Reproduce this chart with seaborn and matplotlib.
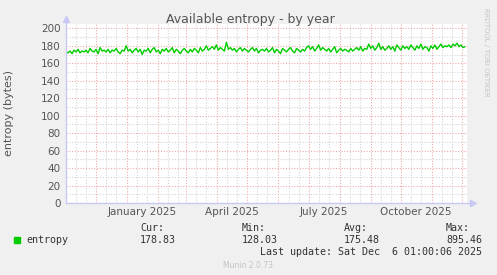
import numpy as np
import pandas as pd
import matplotlib
matplotlib.use("Agg")
import matplotlib.pyplot as plt
import matplotlib.dates as mdates
import seaborn as sns
from datetime import datetime

# ---------------- data ----------------
title = "Available entropy - by year"
ylabel = "entropy (bytes)"
series_name = "entropy"
start_date = "2024-11-01 01:00"
end_date = "2025-12-06 01:00"
# samples every 2 days (averaged entropy, bytes)
entropy = [
    173, 172, 174, 171, 175, 173, 176, 172, 174, 173,
    175, 172, 177, 174, 173, 176, 171, 178, 174, 175,
    173, 176, 172, 175, 174, 177, 173, 171, 175, 174,
    180, 174, 176, 172, 175, 177, 173, 176, 170, 175,
    174, 177, 172, 176, 178, 173, 175, 171, 176, 174,
    177, 173, 175, 178, 172, 176, 174, 171, 175, 177,
    174, 172, 176, 173, 177, 175, 172, 178, 174, 176,
    180, 175, 177, 179, 176, 181, 175, 178, 176, 174,
    184, 176, 178, 175, 177, 173, 176, 178, 174, 177,
    175, 173, 176, 178, 174, 177, 172, 175, 176, 174,
    177, 173, 175, 178, 172, 176, 174, 171, 177, 175,
    173, 176, 178, 174, 172, 177, 175, 173, 176, 174,
    178, 180, 176, 179, 174, 177, 181, 175, 178, 176,
    174, 177, 173, 176, 179, 172, 175, 177, 174, 176,
    175, 173, 177, 174, 176, 178, 175, 179, 174, 177,
    176, 182, 177, 180, 175, 178, 183, 176, 179, 175,
    177, 180, 176, 179, 174, 181, 178, 175, 180, 177,
    179, 176, 181, 178, 175, 180, 177, 182, 176, 179,
    178, 174, 180, 177, 181, 176, 179, 182, 178, 180,
    179, 181, 178, 182, 180, 183, 179, 181, 178, 179,
]
xtick_labels = ["January 2025", "April 2025", "July 2025", "October 2025"]
xtick_months = ["2025-01", "2025-04", "2025-07", "2025-10"]
ytick_values = [0, 20, 40, 60, 80, 100, 120, 140, 160, 180, 200]
stat_headers = ["Cur:", "Min:", "Avg:", "Max:"]
stat_values = ["178.83", "128.03", "175.48", "895.46"]
last_update = "Last update: Sat Dec  6 01:00:06 2025"
footer = "Munin 2.0.73"
side_text = "RRDTOOL / TOBI OETIKER"

# ---------------- style ----------------
sns.set_style("white")
plt.rcParams["font.family"] = ["DejaVu Sans"]

W, H = 497, 275
fig = plt.figure(figsize=(W / 100, H / 100), dpi=100, facecolor="#f0f0f0")
L, R, B, T = 66, 467, 203, 24
ax = fig.add_axes([L / W, (H - B) / H, (R - L) / W, (B - T) / H])
ax.set_facecolor("white")

t0 = pd.Timestamp(start_date)
t1 = pd.Timestamp(end_date)
dates = pd.date_range(t0, periods=len(entropy), freq="2D")
df = pd.DataFrame({"date": dates, "value": entropy})

red = "#eeaaaa"
gray = "#d4d4d4"

# grid: months (red), 11th/21st (gray)
months = pd.date_range("2024-11-01", "2025-12-31", freq="MS")
for m in months:
    for d in (11, 21):
        dd = m + pd.Timedelta(days=d - 1)
        if t0 < dd < t1:
            ax.axvline(dd, color=gray, lw=0.8, ls=(0, (1, 1.5)), zorder=1)
for y in range(10, 210, 20):
    ax.axhline(y, color=gray, lw=0.8, ls=(0, (1, 1.5)), zorder=1)
for y in ytick_values[1:]:
    ax.axhline(y, color=red, lw=0.8, ls=(0, (1, 1.5)), zorder=2)
month_ticks = [m for m in months if t0 < m < t1]
for m in month_ticks:
    ax.axvline(m, color=red, lw=0.8, ls=(0, (1, 1.5)), zorder=2)

sns.lineplot(data=df, x="date", y="value", ax=ax, color="#00cc00",
             lw=1.0, zorder=3, legend=False)

ax.set_xlim(t0, t1)
ax.set_ylim(0, 205)
ax.set_xlabel("")
ax.set_ylabel(ylabel, fontsize=8, color="#555555", labelpad=19)

ax.set_yticks(ytick_values)
ax.set_yticklabels([str(v) for v in ytick_values], fontsize=7.5, color="#555555")
ax.tick_params(axis="y", length=2, color=red, pad=2)

ax.set_xticks(month_ticks)
ax.set_xticklabels([""] * len(month_ticks))
ax.tick_params(axis="x", which="major", length=3, color=red, direction="out")
label_pos = [pd.Timestamp(m + "-01") + pd.Timedelta(days=15) for m in xtick_months]
ax.set_xticks(label_pos, minor=True)
ax.set_xticklabels(xtick_labels, minor=True, fontsize=7.5, color="#555555")
ax.tick_params(axis="x", which="minor", length=0, pad=3)

for s in ax.spines.values():
    s.set_visible(False)
axis_col = "#c8c8f4"
ax.plot([0, 0], [0, 1.02], transform=ax.transAxes, color=axis_col, lw=1, clip_on=False, zorder=4)
ax.plot([0, 1.012], [0, 0], transform=ax.transAxes, color=axis_col, lw=1, clip_on=False, zorder=4)
ax.plot([0], [1.03], transform=ax.transAxes, marker="^", ms=5, color=axis_col, clip_on=False)
ax.plot([1.015], [0], transform=ax.transAxes, marker=">", ms=5, color=axis_col, clip_on=False)

fig.text(250 / W, 1 - 19 / H, title, ha="center", va="center", fontsize=9, color="#555555")
fig.text(486 / W, 1 - 52 / H, side_text, rotation=270, ha="center", va="center",
         fontsize=5, color="#c4c4c4")

mono = "DejaVu Sans Mono"
fig.patches.append(plt.Rectangle((14 / W, 1 - 242.5 / H), 6 / W, 6 / H,
                                 transform=fig.transFigure, color="#00cc00"))
fig.text(26 / W, 1 - 240 / H, series_name, ha="left", va="center", fontsize=7.2,
         family=mono, color="#333333")
xs = [140, 242, 344, 446]
for x, h, v in zip(xs, stat_headers, stat_values):
    fig.text(x / W, 1 - 228 / H, h, ha="left", va="center", fontsize=7.2, family=mono, color="#333333")
    fig.text(x / W, 1 - 240 / H, v, ha="left", va="center", fontsize=7.2, family=mono, color="#333333")
fig.text(482 / W, 1 - 252 / H, last_update, ha="right", va="center", fontsize=7.2,
         family=mono, color="#333333")
fig.text(248 / W, 1 - 265 / H, footer, ha="center", va="center", fontsize=5.5, color="#c4c4c4")

fig.savefig("out.png", dpi=100, facecolor=fig.get_facecolor())
